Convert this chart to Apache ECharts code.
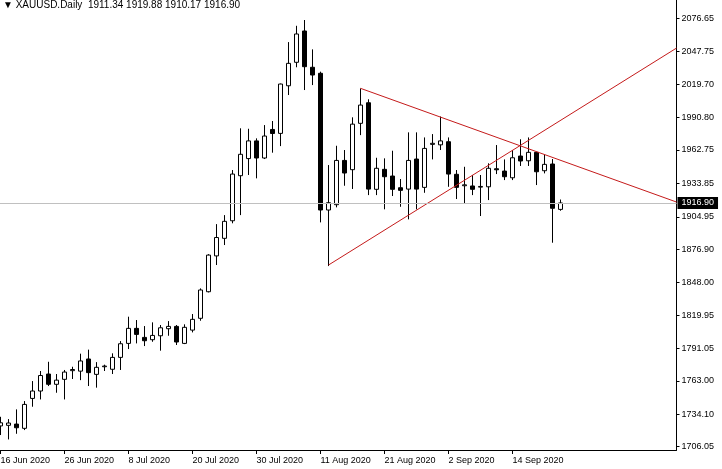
<!DOCTYPE html>
<html>
<head>
<meta charset="utf-8">
<script src="https://cdn.jsdelivr.net/npm/echarts@6/dist/echarts.min.js"></script>
<style>html,body{margin:0;padding:0;background:#fff;overflow:hidden;}#c{width:722px;height:469px;}</style>
</head>
<body>
<div id="c"></div>
<script>
const dates = ['16 Jun 2020','17 Jun 2020','18 Jun 2020','19 Jun 2020','22 Jun 2020','23 Jun 2020','24 Jun 2020','25 Jun 2020','26 Jun 2020','29 Jun 2020','30 Jun 2020','1 Jul 2020','2 Jul 2020','3 Jul 2020','6 Jul 2020','7 Jul 2020','8 Jul 2020','9 Jul 2020','10 Jul 2020','13 Jul 2020','14 Jul 2020','15 Jul 2020','16 Jul 2020','17 Jul 2020','20 Jul 2020','21 Jul 2020','22 Jul 2020','23 Jul 2020','24 Jul 2020','27 Jul 2020','28 Jul 2020','29 Jul 2020','30 Jul 2020','31 Jul 2020','3 Aug 2020','4 Aug 2020','5 Aug 2020','6 Aug 2020','7 Aug 2020','10 Aug 2020','11 Aug 2020','12 Aug 2020','13 Aug 2020','14 Aug 2020','17 Aug 2020','18 Aug 2020','19 Aug 2020','20 Aug 2020','21 Aug 2020','24 Aug 2020','25 Aug 2020','26 Aug 2020','27 Aug 2020','28 Aug 2020','31 Aug 2020','1 Sep 2020','2 Sep 2020','3 Sep 2020','4 Sep 2020','7 Sep 2020','8 Sep 2020','9 Sep 2020','10 Sep 2020','11 Sep 2020','14 Sep 2020','15 Sep 2020','16 Sep 2020','17 Sep 2020','18 Sep 2020','21 Sep 2020','22 Sep 2020'];
// empty chart-shift space to the right of the last bar (no labels drawn there)
const futureDates = ['23 Sep 2020','24 Sep 2020','25 Sep 2020','28 Sep 2020','29 Sep 2020','30 Sep 2020','1 Oct 2020','2 Oct 2020','5 Oct 2020','6 Oct 2020','7 Oct 2020','8 Oct 2020','9 Oct 2020','12 Oct 2020'];

const opens  = [1724.0,1724.5,1725.6,1721.9,1747.8,1754.2,1768.9,1760.0,1764.3,1771.8,1771.4,1781.9,1768.6,1775.2,1773.0,1783.3,1795.4,1808.4,1800.6,1798.6,1802.0,1808.1,1810.1,1795.4,1806.9,1817.1,1840.1,1871.1,1886.3,1901.5,1940.5,1955.3,1970.6,1955.8,1980.5,1977.1,2018.3,2038.6,2065.7,2034.3,2029.1,1910.8,1915.4,1953.7,1945.7,1985.8,2003.6,1928.7,1946.0,1940.2,1930.1,1928.9,1954.9,1930.4,1967.6,1967.2,1969.9,1941.7,1931.8,1931.6,1930.6,1930.9,1946.5,1944.5,1938.7,1957.5,1953.4,1960.7,1944.8,1950.6,1911.34];
const closes = [1726.7,1726.5,1722.4,1742.6,1754.2,1767.6,1760.0,1763.6,1770.6,1772.8,1780.2,1770.1,1774.7,1775.8,1783.3,1795.1,1808.4,1803.2,1797.7,1802.3,1808.9,1810.1,1796.6,1809.3,1816.2,1841.6,1871.8,1887.0,1901.0,1941.9,1959.0,1970.6,1955.8,1974.8,1977.0,2019.8,2037.7,2063.1,2034.8,2027.6,1910.8,1917.1,1953.7,1942.8,1985.1,2001.6,1928.9,1946.9,1939.6,1928.7,1927.8,1953.7,1928.9,1964.1,1968.5,1970.6,1941.9,1930.4,1932.6,1928.7,1931.2,1946.9,1945.6,1939.6,1956.0,1953.2,1960.7,1943.9,1950.3,1912.3,1916.90];
const lows   = [1716.1,1712.3,1717.2,1720.4,1740.6,1746.9,1758.5,1752.7,1746.9,1764.6,1763.6,1758.5,1757.1,1771.5,1768.9,1772.4,1790.5,1795.4,1793.1,1796.8,1789.1,1802.0,1794.0,1794.8,1804.9,1815.0,1839.5,1863.2,1880.5,1899.3,1906.4,1941.1,1938.2,1954.9,1960.4,1966.1,2010.3,2034.3,2014.6,2018.9,1900.1,1862.3,1913.1,1931.8,1929.0,1975.6,1923.7,1923.7,1911.4,1922.9,1913.6,1902.7,1911.4,1925.7,1954.6,1962.7,1930.9,1920.3,1916.0,1923.7,1905.6,1919.4,1941.9,1936.7,1936.7,1948.9,1948.9,1932.4,1942.5,1882.5,1910.17];
const highs  = [1731.9,1729.9,1738.3,1745.5,1762.8,1771.5,1779.5,1768.9,1772.4,1775.2,1786.5,1790.0,1779.2,1777.0,1786.8,1797.4,1818.5,1815.6,1810.4,1813.6,1811.3,1814.7,1811.3,1811.9,1820.8,1843.0,1872.6,1898.6,1906.4,1945.4,1981.5,1981.1,1972.8,1984.3,1987.8,2020.2,2056.1,2070.2,2075.2,2049.8,2030.5,1949.7,1966.4,1962.7,1991.0,2016.0,2006.6,1956.0,1955.5,1962.1,1937.6,1978.0,1978.0,1973.6,1976.5,1991.7,1973.6,1945.4,1948.2,1941.1,1941.1,1951.2,1967.0,1954.6,1962.7,1972.0,1973.6,1961.2,1958.9,1954.9,1919.88];

const yTickLabels = [2076.65,2047.75,2019.70,1990.80,1962.75,1933.85,1904.95,1876.90,1848.00,1819.95,1791.05,1763.00,1734.10,1706.05];
const lastPrice = 1916.90;
// trend lines: [bar index, price]
const upperTrend = [[45, 2016.1], [84.5, 1917.7]];
const lowerTrend = [[41, 1863.2], [84.5, 2050.9]];
const titleText = '\u25BC XAUUSD.Daily  1911.34 1919.88 1910.17 1916.90';
const labelEvery = 8;

const categories = dates.concat(futureDates);
const candleData = opens.map((o, i) => [o, closes[i], lows[i], highs[i]]);
const FONT = 'Liberation Sans';
const showDate = (i) => i % labelEvery === 0 && i < dates.length;

const chart = echarts.init(document.getElementById('c'), null, {renderer: 'canvas'});
chart.setOption({
  animation: false,
  backgroundColor: '#ffffff',
  title: {
    text: titleText, left: 3, top: 0, padding: 0,
    textStyle: {fontSize: 10, fontWeight: 'normal', color: '#000', fontFamily: FONT}
  },
  grid: {left: -3.5, top: 0, width: 680, height: 450, containLabel: false, outerBoundsMode: 'none'},
  xAxis: [{
    type: 'category', data: categories, boundaryGap: true,
    axisLine: {show: true, onZero: false, lineStyle: {color: '#000', width: 1}},
    axisTick: {show: true, alignWithLabel: true, interval: showDate, length: 4, lineStyle: {color: '#000'}},
    axisLabel: {
      interval: showDate, align: 'left', margin: 6, fontSize: 9, color: '#000', fontFamily: FONT,
      formatter: (v, i) => i < dates.length ? v : ''
    },
    splitLine: {show: false}
  }, {
    type: 'value', min: -0.5, max: categories.length - 0.5, show: false,
    axisLine: {show: false, onZero: false}
  }],
  yAxis: {
    type: 'value', position: 'right', min: 1703.16, max: 2092.51, scale: true,
    axisLine: {show: true, onZero: false, lineStyle: {color: '#000', width: 1}},
    axisTick: {show: true, length: 3, customValues: yTickLabels, lineStyle: {color: '#000'}},
    axisLabel: {
      customValues: yTickLabels, margin: 5, fontSize: 9, color: '#000', fontFamily: FONT,
      formatter: v => Number(v).toFixed(2)
    },
    splitLine: {show: false}
  },
  series: [{
    type: 'candlestick', data: candleData, barWidth: 5,
    itemStyle: {color: '#ffffff', color0: '#000000', borderColor: '#000000', borderColor0: '#000000', borderWidth: 1},
    markLine: {
      silent: true, symbol: ['none', 'none'], animation: false,
      lineStyle: {color: '#c0c0c0', type: 'solid', width: 1},
      label: {
        show: true, position: 'end', distance: 1, formatter: () => lastPrice.toFixed(2),
        backgroundColor: '#000', color: '#fff', fontSize: 9, fontFamily: FONT, padding: [2, 4, 1, 4]
      },
      data: [{yAxis: lastPrice}]
    }
  }, {
    type: 'line', xAxisIndex: 1, data: upperTrend, symbol: 'none', clip: true, silent: true,
    lineStyle: {color: '#c41a1a', width: 1}
  }, {
    type: 'line', xAxisIndex: 1, data: lowerTrend, symbol: 'none', clip: true, silent: true,
    lineStyle: {color: '#c41a1a', width: 1}
  }]
});
</script>
</body>
</html>
